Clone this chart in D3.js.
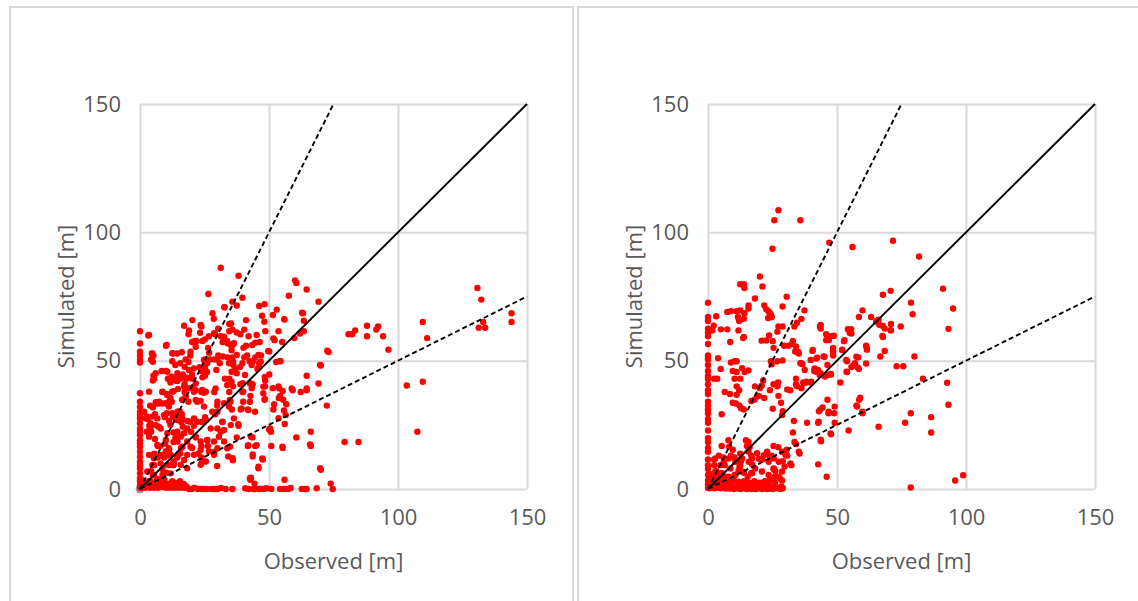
<!DOCTYPE html>
<html>
<head>
<meta charset="utf-8">
<script src="https://cdn.jsdelivr.net/npm/d3@7"></script>
<style>
  body { margin: 0; background: #ffffff; }
  svg { display: block; }
  text { font-family: "Open Sans", "Liberation Sans", sans-serif; }
</style>
</head>
<body>
<svg id="chart" width="1138" height="601"></svg>
<script>
// Axis ticks shared by both panels (metres)
const axisTicks = [0, 50, 100, 150];
// Ratio lines: simulated = slope * observed (2:1, 1:1, 1:2)
const ratioSlopes = [2, 1, 0.5];
const axisTitleX = "Observed [m]";
const axisTitleY = "Simulated [m]";

// Left panel: [observed, simulated]
const pointsLeft = [
  // observed = 0
  [0,61.5],[0,56.7],[0,53.5],[0,51.9],[0,50.3],[0,49.3],[0,37.3],[0,34],[0,32],[0,30],[0,28.8],[0,27.5],[0,25.6],
  [0,23.6],[0,22.3],[0,21],[0,19],[0,17.8],[0,16.5],[0,14.5],[0,12.6],[0,10.6],[0,9.3],[0,8],[0,6.1],[0,4.2],[0,3],[0,1.6],[0,0.5],
  // near the origin
  [0.5,0.3],[1,1],[1.5,2.5],[2,0.5],[3,1.5],[3.5,3],[4,0.5],[5,2],[6,1],[6.5,3.5],[7,0.5],
  [8,2],[9,1],[9.5,3.5],[10,0.5],[11,2],[12,1],[12.5,3],[13,0.5],[14,2],
  [15,1],[15.5,3],[16,0.5],[17,2],[18,1],[0.8,3.5],
  [4,3],[7,3],[1.5,0.8],[2.5,1.8],[3.5,0.8],[4.5,1.5],
  [5.5,0.5],[6.5,1.8],[7.5,1.2],[8.5,0.8],[9.5,1.8],[10.5,1.2],[11.5,0.5],[12.5,1.5],[13.5,2.5],[14.5,0.5],[15.5,1.5],
  [16.5,1],[17.5,0.5],[19,0],[20,0],[21,0.5],
  // simulated = 0
  [19.2,0],[22.4,0],[23.8,0],[25,0],[26,0],[27.8,0],[29,0],[30,0],[31.4,0.4],[33.2,0],[35.8,0],[40.8,0.3],[42.1,0],
  [43.9,0],[44.7,0],[46.2,0],[46.5,0],[47.8,0],[49,0.3],[50.9,0],[54.3,0],[55.5,0],[56.3,0],[57.5,0],[58.4,0.4],
  [62.7,0],[64,0],[64.6,0],[68.5,0.3],[74.7,0],
  // remaining sites
  [31.3,86.2],[38.2,83.1],[26.5,76],[39.7,74.5],[60.1,81.3],[60.6,80.3],[64.6,77.7],[57.7,75.3],[69.2,73],[130.8,78.3],
  [132.3,73.8],[109.6,65.1],[111.3,58.8],[131.3,62.8],[133.8,62.8],[133,65.1],[144,68.5],[144,65.1],[80.8,60.3],
  [82.2,60.3],[83.4,61.8],[88,63.6],[88,59.5],[91.6,62.1],[92.3,63.3],[94.2,59.5],[96.3,54.3],[73.1,53.4],[103.4,40.3],
  [109.6,41.8],[107.5,22.3],[79.3,18.3],[84.7,18.3],[70.1,48.1],[69.2,41.1],[72.4,32.5],[70.1,7.5],[73.9,2.1],
  [64.6,44.1],[64.6,38.5],[66.2,22.3],[66.2,16.8],[60.6,20.1],[62.3,37.8],[59.2,38.5],[56,3.6],[62,60.6],[63.5,61.5],
  [63.5,65.6],[63.2,68.5],[59.8,58.8],[56,66],[53,69.9],[51.5,67.8],[48.3,72],[46.2,71.3],[47.3,67.5],[53.7,61.5],
  [52.2,58],[55.1,57.3],[50.1,53.6],[54.4,49.8],[52.8,49.5],[50.1,44.6],[48.5,42.3],[48.5,40],[51.5,39.3],[53.7,40],
  [53.8,35.5],[55.5,34.8],[56.7,33],[55.8,30.6],[56.5,28.8],[56.1,25.3],[53.7,27.6],[51.7,31],[52,33],[48.3,34.8],
  [50.1,23.1],[50.8,22.3],[50.9,16.8],[55.3,16],[47.6,11.5],[45.9,8.1],[44.7,16.8],[43.7,12.7],[41.8,16.8],[43.6,20.1],
  [42.8,3.6],[44.4,2.1],[34.2,12.7],[36,11.2],[29.9,9],[28.8,14.5],[26.3,16.8],[23.8,16.8],[26,19],[23.8,12.3],
  [23.8,10],[20.2,16],[22.6,13.8],[31.3,22.3],[32,26.1],[29.1,29.1],[29.9,32.5],[28.8,37.8],[23.8,37.8],[24.8,37.5],
  [23.5,34.3],[25.2,28],[24,26.1],[20.9,24.6],[19.5,26.1],[19.8,22.3],[21.6,20.1],[38.2,24.6],[37.5,20.1],[41.8,31],
  [42.8,36.3],[43.3,39.3],[43.7,40.8],[39.7,37.8],[40,34],[39,31],[35.6,31],[35.1,34],[34.6,37.8],[36.1,40],[38.9,40.8],
  [34.6,43],[32.9,43],[36.9,46.8],[36,49.8],[35.8,51.3],[38.7,47.5],[39.7,49],[40.4,51.3],[41.5,52],[42.5,49.8],
  [43.3,48.3],[44.7,51.3],[46.2,49],[46.2,47.5],[46.9,52],[45.5,46.8],[41.1,55.8],[40.1,55],[42.1,59.5],[44.7,57],
  [46.4,57.3],[38.9,60.3],[37.5,61],[40.4,62.1],[41.1,65.8],[34.6,61.5],[35.8,62.1],[31.3,59.5],[32,57.3],[33.9,56.8],
  [30.3,52],[28.8,50.5],[32.1,51.6],[33.9,51.3],[28.1,68.5],[28.6,66.3],[32.7,70.8],[34.6,64.3],[37.5,71.5],[30.3,62.5],
  [29.1,60.3],[26.7,59.5],[25.2,58.3],[23.8,63.3],[24.2,57.7],[20.2,57.3],[21.9,57.7],[18.8,60.3],[19,61.8],[17.1,63.6],
  [20.3,65.8],[26.4,55],[26.8,53.1],[25.2,50.5],[26,49],[27.1,50.5],[23.1,47.5],[23.8,46],[25.2,46.8],[26,45.6],
  [20.9,47],[20.2,44.6],[19.5,52],[18.8,49.5],[15.6,49],[16.6,44.6],[18,43],[20.2,43],[21.6,41.1],[24.2,43.5],
  [25.2,44.1],[21.6,38.5],[19,39.3],[17.3,37.8],[16.3,34.8],[17.7,36],[18.8,34],[15.4,30.3],[15.9,26.1],[16.6,24.3],
  [14.4,22],[13.7,19.8],[13,18.3],[15.9,16],[15.6,13.8],[14.4,12.3],[13,10.8],[13,9.3],[11.3,15.3],[10.8,13.1],
  [11.5,9.3],[9.4,12.3],[8.7,7.8],[10.4,6.3],[7.9,16.8],[9.8,17.6],[6.9,12.3],[5.5,9.3],[5,5.5],[4.3,7],[6.5,4],
  [7.9,3.3],[13,22],[11.8,25],[11.3,26.5],[12.7,28],[14.4,28.8],[16.2,29.1],[9.7,28],[10.4,29.5],[8.7,33.3],[11,32.8],
  [12.3,34],[11.8,35.5],[10.4,37],[8.7,37.8],[13,38.1],[14.7,39],[17.3,40.8],[13.7,42.3],[14.4,43],[11.8,42.3],
  [10.8,43],[11.8,41.5],[10.1,46],[12.3,43.8],[13,52.8],[14.4,52.8],[10.1,55.8],[12.5,49.8],[13.7,48.3],[8.4,46],
  [4.6,52.8],[4.3,50.5],[6.5,33.3],[7.5,33.3],[3.9,32.5],[5,31.8],[5.8,29.1],[2.2,27.6],[2.9,27.3],[3.6,24.6],
  [4.3,22.3],[2.6,22.3],[7.2,24.3],[5.8,19.5],[6.9,16.8],[5.5,13.8],[3.2,59.8],[4.8,52.8],[5,42.3],[5.5,43],
  [35.3,64.5],[55.9,66.2],[62.8,68.7],[48.2,65.2],[48.6,61.5],[45.2,60],[51.7,58.7],[36.4,56.8],[35.5,54.1],[37.5,52.2],
  [43.5,56.1],[45.9,52.2],[46.8,49.6],[43.9,49.9],[49.7,53.8],[54.3,49.9],[48.4,43.7],[54,39.2],[55.3,38.2],[54.3,36.3],
  [58.8,39.2],[64.6,39.2],[69.8,48.3],[72.6,53.9],[65.9,17.4],[69.8,8.1],[55.2,16.5],[50.4,23.6],[43,20.4],[45.2,17.1],
  [42,17.1],[43.7,13.5],[47.4,11.9],[45.9,8.7],[42.6,4.2],[38.1,25.2],[34.9,16.5],[35.9,12],[36.4,27.5],[39.4,31.4],
  [42,30.8],[42.6,34],[44.6,30.1],[48.4,35.1],[47.8,37.3],[47.8,39.9],[37.5,45.1],[39.8,41.2],[42.6,41.2],[40.7,44.4],
  [40,37.9],[35.5,41.8],[35.9,56.1],[36.2,48.3],[35.5,45.7],[43,4.4],
  [32.8,70.8],[35.8,73],[23.5,63.9],[23.3,60.9],[28.7,60.7],[32.6,59.3],[33.8,57.7],[35.2,56.1],[21.3,57.7],[21.6,55.4],
  [10.3,56.1],[12.5,52.9],[16.2,53.3],[19.6,53.5],[3.5,60],[5.2,51.9],[5,49.6],[17.7,50.5],[17.3,47.6],[19,46.4],
  [24.8,50.3],[25.2,48.3],[24.8,47],[30,50.5],[30.9,49],[29.6,46.4],[34.5,49],[6.1,45.1],[5.2,44.1],[10.6,45.7],
  [11.5,43.1],[14.5,45.1],[14.5,42.1],[15.8,43.1],[18.3,43.4],[17.1,39.9],[20.3,39.6],[20.9,37.9],[21.6,34.7],
  [24.1,38.6],[25.5,37.9],[22.2,34],[24.8,32.1],[29.3,39.2],[30,34],[33.8,40.5],[34.8,34.7],[30,30.1],[32.6,33.4],
  [3.5,37.9],[6.1,33.8],[7.4,34],[8.7,37.9],[10.6,36.6],[12.5,37.9],[11.2,34],[10,33.4],[1.6,30.1],[2.8,28.2],[4.8,28.2],
  [4.1,25.6],[6.7,27.5],[11.2,32.1],[9.3,28.8],[12.5,29.5],[14.5,30.1],[14.2,26.9],[16.4,27.5],[18.3,26.5],[20.9,27.5],
  [22.2,26.2],[18.3,23.6],[17.1,21.7],[14.5,22.3],[15.8,20.4],[10.6,21.7],[8,23.6],[6.1,24.9],[4.1,23.6],[3.5,20.4],
  [6.7,17.2],[10,19.1],[11.2,15.9],[14.5,18.5],[16.4,16.5],[18.3,18.5],[19.6,16.5],[21.6,20.4],[23.5,18.5],[26.1,19.1],
  [28.7,18.5],[27.4,23.6],[25.5,26.9],[28,30.1],[31.9,26.2],[30,23.6],[30.6,20.4],[32.6,23],[35.2,24.9],[34.5,32.1],
  [32.6,18.5],[30,15.9],[26.7,14.6],[23.5,15.2],[20.9,13.3],[18.3,13.3],[17.1,11.3],[14.5,12.6],[11.9,13.3],[10,14.6],
  [8,13.3],[5.4,12],[3.5,13.3],[4.8,9.4],[8,10],[10.6,9.4],[13.2,10],[15.8,9.4],[18.3,8.1],[11.9,6.1],[8.7,5.5],
  [5.4,5.5],[2.8,6.8],[23.5,9.4],[25.5,10.7],[28.7,13.3],[33.8,15.9]
];
// Grey marker at the origin of the left panel
const originMarkerLeft = [[0, 0]];

// Right panel: [observed, simulated]
const pointsRight = [
  // observed = 0
  [0,72.6],[0,67],[0,65.5],[0,62.5],[0,61],[0,59.5],[0,56.5],[0,52],[0,51],[0,50.5],[0,48.3],[0,46],[0,44],[0,43],
  [0,40.8],[0,38.5],[0,37],[0,34],[0,32.5],[0,31],[0,29.5],[0,27.3],[0,25.8],[0,22.8],[0,19.8],[0,18.3],[0,16],
  [0,14.5],[0,11.5],[0,9.3],[0,7.8],[0,5.5],[0,3.3],[0,1.8],[0,0.5],
  // near the origin
  [0.5,0.3],[1,1],[1.5,0.5],[2,1.8],[2.5,0.3],[3,1.2],[3.5,0.5],[4,2],[4.5,0.8],[5,0.3],[5.5,1.5],[6,0.5],[6.5,1],
  [7,0.2],[7.5,1.8],[8,0.6],[8.5,0.2],[9,1.2],[9.5,0.5],[10,0],[10.5,1],[11,0.3],[11.5,1.5],[12,0.5],[12.5,0],[13,1],
  [13.5,0.3],[14,1.8],[14.5,0.5],[15,0],[15.5,1.2],[16,0.3],[16.5,0.8],[17,0],[17.5,1.5],[18,0.5],[18.5,0],[19,1],
  [19.5,0.3],[20,2],[20.5,0.5],[21,0],[21.5,1.2],[22,0.3],[22.5,0.8],[23,0],[23.5,1.5],[24,0.3],[24.5,0.8],[25,0],
  [25.5,1.2],[26,0.3],[27,0.5],[28,0],[28.5,1],[29,0.3],[1,3],[2,4],[3,2.5],[1.5,5],[0.5,6],[4,3.5],[5,2.8],[6,3.5],
  [7,2.5],[8,3],[9,2.5],[10,3.5],[12,2.8],[14,3],[16,2.5],[18,3],[20,2.5],[22,3],[24,3.5],[26,2.5],[3,5],[5,6],
  [2.8,11.9],[4.8,9.3],[6.1,10.6],[8,11.9],[8.7,8],[10.6,10.6],[13.2,11.9],[15.8,10.6],[17.1,11.9],[19,13.9],
  [21.6,13.2],[22.9,14.5],[23.5,10.6],[25.5,11.9],[27.4,10.6],[28.7,14.5],[30,13.2],[31.9,10],[2.8,6.8],[5.4,5.5],
  [8,4.8],[10.6,5.5],[13.2,6.8],[17.1,6.1],[18.3,8],[20.9,6.8],[23.5,5.5],[25.5,8],[27.4,4.8],[28.7,6.8],
  // remaining sites
  [27.3,108.6],[25.7,104.7],[35.8,104.7],[25,93.6],[47,96],[56,94.3],[71.7,96.7],[81.8,90.6],[91.1,78],[95,70.3],
  [78.7,72.6],[79.3,68.1],[70.8,77.2],[67.8,75.7],[67.8,59.2],[68.5,62.5],[70.9,64.3],[70.9,61.8],[74.7,63.3],
  [68.5,53.8],[66.8,51.6],[65.7,65.1],[66.4,64],[66.1,66],[63.2,67],[59.9,69.6],[58.5,67],[61.3,55.8],[61.6,54.3],
  [61.3,48.9],[58.2,51.3],[58.5,46.8],[57,49],[55.6,60.6],[54.9,60.9],[52.7,57.6],[52,54.3],[55.6,47.5],[53.9,49.8],
  [53.9,45.6],[51.3,41.5],[48.5,55],[48.5,53.6],[47.7,59.5],[45.8,60.3],[48.5,52],[44.8,51.6],[46.3,48.3],[43.4,63.3],
  [43.7,62.5],[45.8,58],[40.5,53.8],[42,50.8],[41.2,46],[43.4,45.3],[44.1,44.6],[45.3,43.8],[47.7,44.6],[39.7,41.5],
  [37.6,41.3],[36.9,41.5],[36.2,39.3],[34.5,40],[34.1,40.8],[34.1,43],[35.8,49],[36.6,48.6],[34.8,53.2],[33.8,53.6],
  [35.2,52.8],[32.9,57.7],[32.6,56.5],[31.2,55.8],[34.1,55.5],[29.5,55.8],[36.2,66.3],[34.5,64.8],[37.4,69.6],
  [33.5,63.3],[28.9,63.3],[28.9,50.1],[26.9,49.8],[24.4,49.8],[24.7,48.6],[25.4,55],[25.1,57.6],[22.6,57.9],
  [20.8,57.8],[23.7,59.8],[26.9,61.3],[27.3,63.3],[24,68.5],[24.7,67],[23.3,66.6],[24.3,68.1],[21.8,71.5],[22.6,70],
  [23.4,69.3],[28.9,71.1],[30.5,74.9],[21.1,78.9],[20.1,82.8],[18.2,74.2],[13.9,79.8],[12.5,79.8],[14.1,78.3],
  [15.7,71.5],[15.7,70.3],[14.1,68.5],[12.5,69.6],[11.1,69.3],[8.9,69.3],[7.5,69],[11.6,67],[12.1,65.5],[13.9,66.3],
  [3.2,67.3],[5,62.2],[7.5,62.2],[11.8,61.8],[13.9,59.2],[13.6,58.8],[8.6,57.3],[1.7,61.8],[2.2,63.6],[3.9,51],
  [2.4,43],[3.6,43],[4.9,46.8],[8.9,49.3],[10.3,49.8],[11.1,49.8],[9.6,46],[11.1,45.6],[13.2,47.1],[14.2,45.6],
  [15.7,46.2],[10.3,43],[12.5,43],[11.1,40],[12.1,38.5],[6.5,37.8],[8.5,37],[11.1,36.7],[5.3,29.1],[9.6,33.6],
  [10.8,33.3],[12.2,32.5],[12.8,31.5],[13.9,31],[16.8,34.3],[18,34.8],[19,36],[20.1,39.3],[20.8,40.2],[21.4,42.3],
  [18.2,40],[19.7,36.3],[21.8,35.5],[24,38.5],[25.4,40.8],[25.1,31.3],[26.9,40],[27.2,41.5],[27.3,36.3],[28.3,33.6],
  [29,30.3],[28.7,28.8],[30.7,38.8],[31.9,38.5],[33.3,26.5],[38.4,25.8],[32.9,22],[33.5,18.3],[34.1,17.5],[35.2,14.5],
  [35.5,13.8],[30.5,15.3],[30.7,13],[29.7,8.8],[32.3,9.3],[29,10.8],[25.4,16.8],[27.2,16.3],[24.7,13],[23.7,13],
  [23,13.8],[25.4,7.8],[26.1,7],[25.9,4.8],[28,4],[28.7,3.3],[19.7,11.8],[21.1,11.5],[16.8,13],[17.1,9.6],[15.7,18.3],
  [16.1,16.3],[15.7,14.5],[14.7,19],[15.1,16.8],[12.5,13.8],[12.8,10.8],[10.3,12.3],[12.2,8.8],[8.9,13],[8.2,16.5],
  [9.6,15.3],[7.9,19],[5.3,16.8],[4.2,13],[6,12.3],[6.5,9.3],[2.4,11.5],[3.2,7],[2.4,9.3],[5.3,6.3],[6.8,4.8],[8.2,4],
  [10.3,5.5],[11.8,7],[12.5,9.3],[13.9,6.3],[15.4,4.8],[16.8,6.3],[18.2,2.5],[21.1,2.5],[42.7,9.6],[43.8,18.6],
  [42.7,25.8],[43,30.3],[44.4,31.8],[46,4.8],[46.3,34.8],[46.7,29.5],[47.7,21.3],[49.1,32.1],[48.9,29.5],[49.1,25.8],
  [54.5,22.8],[57.8,32.1],[58.6,34.8],[59.9,29.5],[66.1,24.3],[73.1,47.8],[75.7,47.8],[80,51.6],[83.3,43],[92.7,41.4],
  [93.2,62.4],[93.2,32.8],[78.6,29.5],[76.4,25.8],[86.5,28],[86.5,22],[78.6,0.6],[95.8,3.3],[98.9,5.4],
  [65.2,65.4],[67.8,63.5],[70.7,61.9],[67.6,59.6],[59,35.6],[57.5,32.5],[59.8,30.1],[46.8,30.1],[43.5,30.9],
  [42.9,26.2],[47.5,21.6],[43.7,19.2],[48.8,59.7],[46.8,58],[52.9,58],[54.2,62.3],[55.5,62.3],[61.4,55.4],[58.1,47.3],
  [57.5,51.5],[53.6,50.3],[53.7,45.7],[56.2,48],[47.5,44.8],[46.3,44.4],[45.2,51.5],[48.4,53.8],[52,54.2],[43.7,63.9],
  [40.6,54.2],[42.3,51.2],[39.8,50.3],[37.5,46.4],[36.2,49],[34.9,53.5],[38.1,41.8],[40,41.8],[42,45.7],[43.3,44.4],
  [42.6,46.4],[41.3,47]
];

const svg = d3.select("#chart");

// Panel frames and plot areas
const panels = [
  { frame: { x: 10, y: 7, w: 563, h: 620 }, plot: { x: 140, y: 104, w: 387, h: 385 }, points: pointsLeft, marker: originMarkerLeft },
  { frame: { x: 578, y: 7, w: 600, h: 620 }, plot: { x: 708, y: 104, w: 387, h: 385 }, points: pointsRight, marker: [] }
];

const GRID = "#d9d9d9";
const LABEL = "#595959";

panels.forEach(p => {
  svg.append("rect")
    .attr("x", p.frame.x).attr("y", p.frame.y)
    .attr("width", p.frame.w).attr("height", p.frame.h)
    .attr("fill", "#ffffff").attr("stroke", GRID).attr("stroke-width", 2);

  const x = d3.scaleLinear().domain([0, 150]).range([p.plot.x, p.plot.x + p.plot.w]);
  const y = d3.scaleLinear().domain([0, 150]).range([p.plot.y + p.plot.h, p.plot.y]);

  // Gridlines with tick labels (vertical)
  const gx = svg.append("g")
    .attr("transform", `translate(0,${p.plot.y + p.plot.h})`)
    .call(d3.axisBottom(x).tickValues(axisTicks).tickSize(-p.plot.h).tickPadding(20).tickFormat(d3.format("d")));
  gx.select(".domain").remove();
  gx.selectAll(".tick line").attr("stroke", GRID).attr("stroke-width", 2);
  gx.selectAll(".tick text").attr("fill", LABEL).style("font-size", "22px");

  // Gridlines with tick labels (horizontal)
  const gy = svg.append("g")
    .attr("transform", `translate(${p.plot.x},0)`)
    .call(d3.axisLeft(y).tickValues(axisTicks).tickSize(-p.plot.w).tickPadding(19).tickFormat(d3.format("d")));
  gy.select(".domain").remove();
  gy.selectAll(".tick line").attr("stroke", GRID).attr("stroke-width", 2);
  gy.selectAll(".tick text").attr("fill", LABEL).style("font-size", "22px");

  // Grey origin marker
  svg.append("g").selectAll("circle").data(p.marker).join("circle")
    .attr("cx", d => x(d[0])).attr("cy", d => y(d[1])).attr("r", 4.5)
    .attr("fill", "#a6a6a6");

  // Observed vs simulated points
  svg.append("g").selectAll("circle").data(p.points).join("circle")
    .attr("cx", d => x(d[0])).attr("cy", d => y(d[1])).attr("r", 3.2)
    .attr("fill", "#ff0000");

  // Ratio lines
  svg.append("g").selectAll("line").data(ratioSlopes).join("line")
    .attr("x1", x(0)).attr("y1", y(0))
    .attr("x2", s => x(Math.min(150, 150 / s)))
    .attr("y2", s => y(Math.min(150, 150 * s)))
    .attr("stroke", "#000000")
    .attr("stroke-width", 1.9)
    .attr("stroke-dasharray", s => s === 1 ? null : "5,3");

  // Axis titles
  svg.append("text")
    .attr("x", p.plot.x + p.plot.w / 2).attr("y", 569)
    .attr("text-anchor", "middle").attr("fill", LABEL)
    .style("font-size", "22px").text(axisTitleX);
  svg.append("text")
    .attr("transform", `translate(${p.plot.x - 66},${p.plot.y + p.plot.h / 2}) rotate(-90)`)
    .attr("text-anchor", "middle").attr("fill", LABEL)
    .style("font-size", "22px").text(axisTitleY);
});
</script>
</body>
</html>
